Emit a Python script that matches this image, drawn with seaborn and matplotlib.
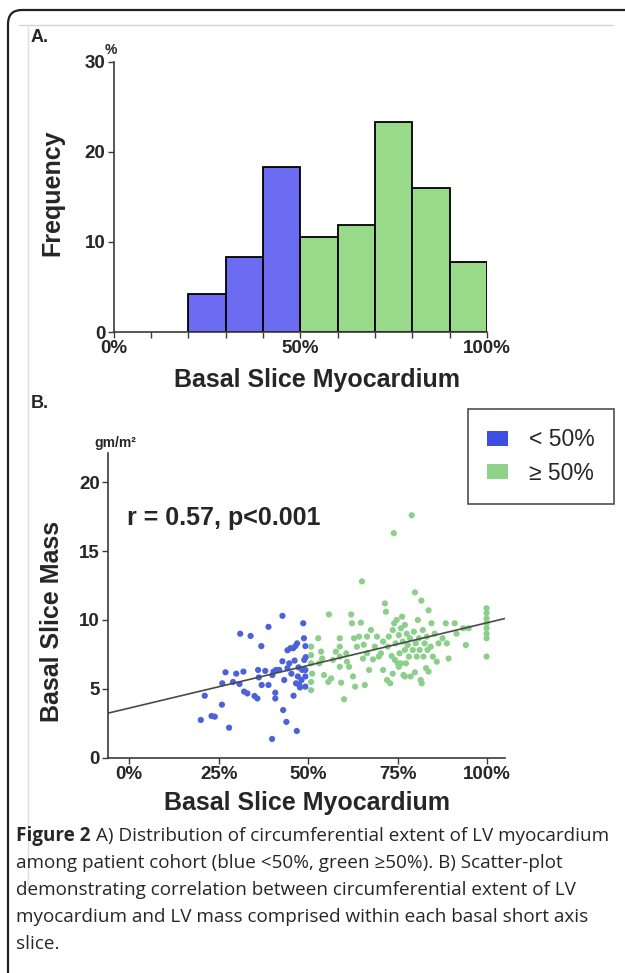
import numpy as np
import pandas as pd
import matplotlib
matplotlib.use("Agg")
import matplotlib.pyplot as plt
import matplotlib.patches as mpatches
from matplotlib.transforms import IdentityTransform
import seaborn as sns

# Panel A: histogram of basal slice myocardium extent (% of patients)
bin_edges = [20, 30, 40, 50, 60, 70, 80, 90, 100]
freq = [4.2, 8.3, 18.3, 10.5, 11.9, 23.3, 16.0, 7.8]

# Panel B: basal slice mass vs extent
blue_x = [20.0, 21.1, 23.0, 23.9, 25.9, 26.0, 26.9, 27.9, 29.0, 29.9, 31.0, 30.8, 31.9, 32.1,
          33.0, 33.9, 35.0, 35.8, 36.2, 36.0, 36.9, 37.0, 38.0, 38.9, 38.9, 39.9, 40.0, 40.3,
          40.8, 40.8, 41.0, 41.9, 42.8, 42.8, 43.0, 43.3, 43.9, 44.2, 44.2, 44.7, 45.0, 45.3,
          45.8, 45.9, 46.2, 46.4, 46.6, 46.8, 46.9, 47.1, 47.3, 47.5, 47.7, 48.1, 48.3, 48.6,
          48.8, 48.9, 49.2, 49.2, 49.2, 49.2, 49.3]
blue_y = [2.74, 4.5, 3.03, 2.98, 3.85, 5.4, 6.2, 2.18, 5.5, 6.1, 9.0, 5.35, 6.25, 4.8,
          4.67, 8.84, 4.48, 4.3, 5.83, 6.37, 8.1, 5.28, 6.3, 9.5, 5.28, 1.36, 6.0, 6.25,
          4.72, 4.3, 6.37, 6.37, 10.3, 7.0, 3.46, 5.64, 2.6, 7.8, 6.5, 6.85, 7.95, 6.1,
          7.95, 4.5, 7.05, 8.1, 5.4, 1.94, 8.3, 5.9, 6.56, 5.28, 5.1, 5.64, 6.37, 9.76,
          8.67, 7.1, 5.16, 5.9, 6.37, 8.1, 7.3]
green_x = [50.8, 50.8, 51.1, 50.8, 50.8, 50.8, 52.8, 53.1, 53.6, 53.9, 54.4, 55.8, 55.6, 56.4,
           56.9, 57.7, 58.8, 58.8, 58.8, 58.8, 59.2, 60.0, 60.6, 60.8, 61.4, 62.0, 62.2, 62.5,
           62.8, 63.1, 63.6, 64.2, 64.7, 65.0, 65.3, 65.5, 65.8, 66.4, 66.4, 67.0, 67.5, 68.1,
           68.6, 69.2, 69.7, 70.3, 70.9, 71.4, 71.7, 72.0, 72.2, 72.5, 72.9, 73.3, 73.6, 73.9,
           74.0, 74.2, 74.4, 74.7, 75.0, 75.3, 75.5, 75.9, 75.9, 76.2, 76.4, 76.6, 77.0, 77.0,
           77.3, 77.5, 77.8, 78.1, 78.4, 78.6, 78.9, 79.2, 79.5, 79.8, 80.0, 80.3, 80.6, 80.9,
           81.1, 81.4, 81.6, 82.0, 82.2, 82.5, 82.9, 83.1, 83.3, 83.6, 83.6, 84.2, 84.4, 84.8,
           85.3, 85.9, 86.4, 87.5, 88.4, 88.7, 89.2, 90.9, 91.4, 93.3, 94.0, 94.8, 99.8, 99.8,
           99.8, 99.8, 99.8, 99.8, 99.8, 99.8, 70.9, 73.6, 75.3, 81.7, 77.0, 79.8]
green_y = [4.9, 5.5, 6.1, 6.85, 7.45, 8.06, 8.67, 6.85, 7.7, 7.2, 6.0, 10.4, 5.5, 5.76,
           7.1, 7.7, 8.67, 8.06, 7.34, 6.6, 5.45, 4.24, 7.58, 6.97, 6.6, 10.4, 9.76, 5.9,
           8.67, 5.16, 8.06, 8.79, 9.8, 12.8, 7.2, 8.2, 5.28, 8.79, 7.58, 6.37, 9.27, 7.14,
           8.06, 8.79, 7.34, 7.58, 8.43, 11.2, 10.6, 5.64, 8.06, 8.79, 5.4, 7.38, 9.27, 16.3,
           9.76, 7.1, 8.3, 10.0, 6.85, 8.9, 7.58, 9.4, 6.85, 10.24, 8.43, 6.0, 7.82, 9.64,
           6.85, 9.0, 8.18, 7.34, 8.67, 5.9, 17.6, 7.82, 9.15, 12.0, 8.3, 7.34, 10.0, 8.67,
           7.82, 5.64, 11.4, 9.27, 7.34, 8.3, 6.5, 8.79, 7.82, 10.7, 6.25, 8.06, 9.76, 7.34,
           9.0, 6.97, 8.3, 8.67, 9.76, 8.3, 7.2, 9.76, 9.0, 9.4, 8.18, 9.4, 10.85, 10.5,
           10.1, 9.76, 9.4, 9.0, 8.67, 7.34, 6.37, 6.1, 6.6, 5.4, 5.9, 6.2]

fit_intercept = 3.6
fit_slope = 0.062
stat_text = "r = 0.57, p<0.001"

group_labels = ["< 50%", "\u2265 50%"]
hist_colors = ["#6b6cf2", "#98d98a"]
dot_colors = ["#4c62d8", "#8ccf8a"]
legend_colors = ["#3b50e2", "#8fd38b"]

caption_lines = [
    "A) Distribution of circumferential extent of LV myocardium",
    "among patient cohort (blue <50%, green \u226550%). B) Scatter-plot",
    "demonstrating correlation between circumferential extent of LV",
    "myocardium and LV mass comprised within each basal short axis",
    "slice.",
]

sns.set_style("ticks")
plt.rcParams["font.family"] = ["Liberation Sans", "DejaVu Sans"]
plt.rcParams["font.weight"] = "bold"

W, H = 625, 973
fig = plt.figure(figsize=(W / 100, H / 100), dpi=100)


def fx(px):
    return px / W


def fy(py):
    return 1 - py / H


axis_col = "#3a3a3a"

# ---------- panel A ----------
hist_df = pd.DataFrame({
    "extent": [e + 5 for e in bin_edges[:-1]],
    "freq": freq,
    "group": [group_labels[0] if e < 50 else group_labels[1] for e in bin_edges[:-1]],
})
ax1 = fig.add_axes([fx(113.5), fy(332), (487 - 113.5) / W, (332 - 61.7) / H])
sns.histplot(data=hist_df, x="extent", weights="freq", hue="group", bins=bin_edges,
             palette=dict(zip(group_labels, hist_colors)), alpha=1, edgecolor="black",
             linewidth=1.3, legend=False, ax=ax1)
ax1.set_xlim(0, 100)
ax1.set_ylim(0, 30)
ax1.set_xticks(range(0, 101, 10))
ax1.set_xticklabels(["0%" if t == 0 else "50%" if t == 50 else "100%" if t == 100 else ""
                     for t in range(0, 101, 10)])
ax1.set_yticks([0, 10, 20, 30])
ax1.set_xlabel("")
ax1.set_ylabel("")
sns.despine(ax=ax1)

# ---------- panel B ----------
sc_df = pd.DataFrame({
    "extent": blue_x + green_x,
    "mass": blue_y + green_y,
    "group": [group_labels[0]] * len(blue_x) + [group_labels[1]] * len(green_x),
})
x_lo, x_hi = -5.8, 105
ax2 = fig.add_axes([fx(108.4), fy(757.7), (505.2 - 108.4) / W, (757.7 - 453.3) / H])
sns.scatterplot(data=sc_df, x="extent", y="mass", hue="group",
                palette=dict(zip(group_labels, dot_colors)), s=20, linewidth=0,
                legend=False, ax=ax2)
line_x = np.array([x_lo, x_hi])
sns.lineplot(x=line_x, y=fit_intercept + fit_slope * line_x, color="#4a4a4a",
             linewidth=1.2, ax=ax2)
ax2.set_xlim(x_lo, x_hi)
ax2.set_ylim(0, 22.1)
ax2.set_xticks([0, 25, 50, 75, 100])
ax2.set_xticklabels(["0%", "25%", "50%", "75%", "100%"])
ax2.set_yticks([0, 5, 10, 15, 20])
ax2.set_xlabel("")
ax2.set_ylabel("")
sns.despine(ax=ax2)

for ax in (ax1, ax2):
    for sp in ("left", "bottom"):
        ax.spines[sp].set_color(axis_col)
        ax.spines[sp].set_linewidth(1.2)
    ax.tick_params(length=4, width=1, color=axis_col, labelsize=13.5, pad=2)
    for lab in ax.get_xticklabels() + ax.get_yticklabels():
        lab.set_fontweight("bold")

lbl = dict(fontsize=18, fontweight="bold", ha="center", va="center")
fig.text(fx(52), fy(193), "Frequency", rotation=90, **lbl)
fig.text(fx(317), fy(380), "Basal Slice Myocardium", **lbl)
fig.text(fx(52), fy(621), "Basal Slice Mass", rotation=90, **lbl)
fig.text(fx(307), fy(803), "Basal Slice Myocardium", **lbl)
fig.text(fx(40), fy(38), "A.", fontsize=13, fontweight="bold", ha="center", va="center")
fig.text(fx(40), fy(403), "B.", fontsize=13, fontweight="bold", ha="center", va="center")
fig.text(fx(111), fy(50), "%", fontsize=10, fontweight="bold", ha="center", va="center")
fig.text(fx(115), fy(443), "gm/m\u00b2", fontsize=10, fontweight="bold", ha="center", va="center")
fig.text(fx(127.5), fy(518), stat_text, fontsize=18, fontweight="bold", ha="left", va="center")

handles = [mpatches.Patch(facecolor=c, edgecolor="none", label=l)
           for c, l in zip(legend_colors, group_labels)]
leg = fig.legend(handles=handles, loc="upper left", bbox_to_anchor=(fx(468), fy(409)),
                 frameon=True, fancybox=False, fontsize=16.5, handlelength=0.9,
                 handleheight=0.6, handletextpad=0.9, labelspacing=0.45, borderpad=0.85,
                 borderaxespad=0)
leg.get_frame().set_edgecolor("#222222")
leg.get_frame().set_linewidth(1.2)
for t in leg.get_texts():
    t.set_fontweight("normal")

# ---------- caption ----------
cap_font = ["Open Sans", "DejaVu Sans"]
cap_size = 13.6
line_ys = [836, 863, 890, 917, 944]
fig_lbl = fig.text(fx(16), fy(line_ys[0]), "Figure 2", family=cap_font, fontsize=cap_size,
                   fontweight="bold", ha="left", va="center")
renderer = fig.canvas.get_renderer()
bb = fig_lbl.get_window_extent(renderer=renderer)
fig.text(bb.x1 / W + fx(5), fy(line_ys[0]), caption_lines[0], family=cap_font,
         fontsize=cap_size, fontweight="normal", ha="left", va="center")
for yy, txt in zip(line_ys[1:], caption_lines[1:]):
    fig.text(fx(16), fy(yy), txt, family=cap_font, fontsize=cap_size,
             fontweight="normal", ha="left", va="center")

# ---------- frame ----------
fig.add_artist(mpatches.FancyBboxPatch((8, -30), 700, H - 10 + 30,
                                       boxstyle="round,pad=0,rounding_size=14",
                                       transform=IdentityTransform(), facecolor="none",
                                       edgecolor="#222222", linewidth=1.6))
fig.add_artist(plt.Line2D([fx(19), fx(613)], [fy(25), fy(25)], color="#d4d4d4", lw=1))
fig.add_artist(plt.Line2D([fx(28), fx(28)], [fy(25), fy(890)], color="#e0e0e0", lw=1))

fig.savefig("out.png", dpi=100)
